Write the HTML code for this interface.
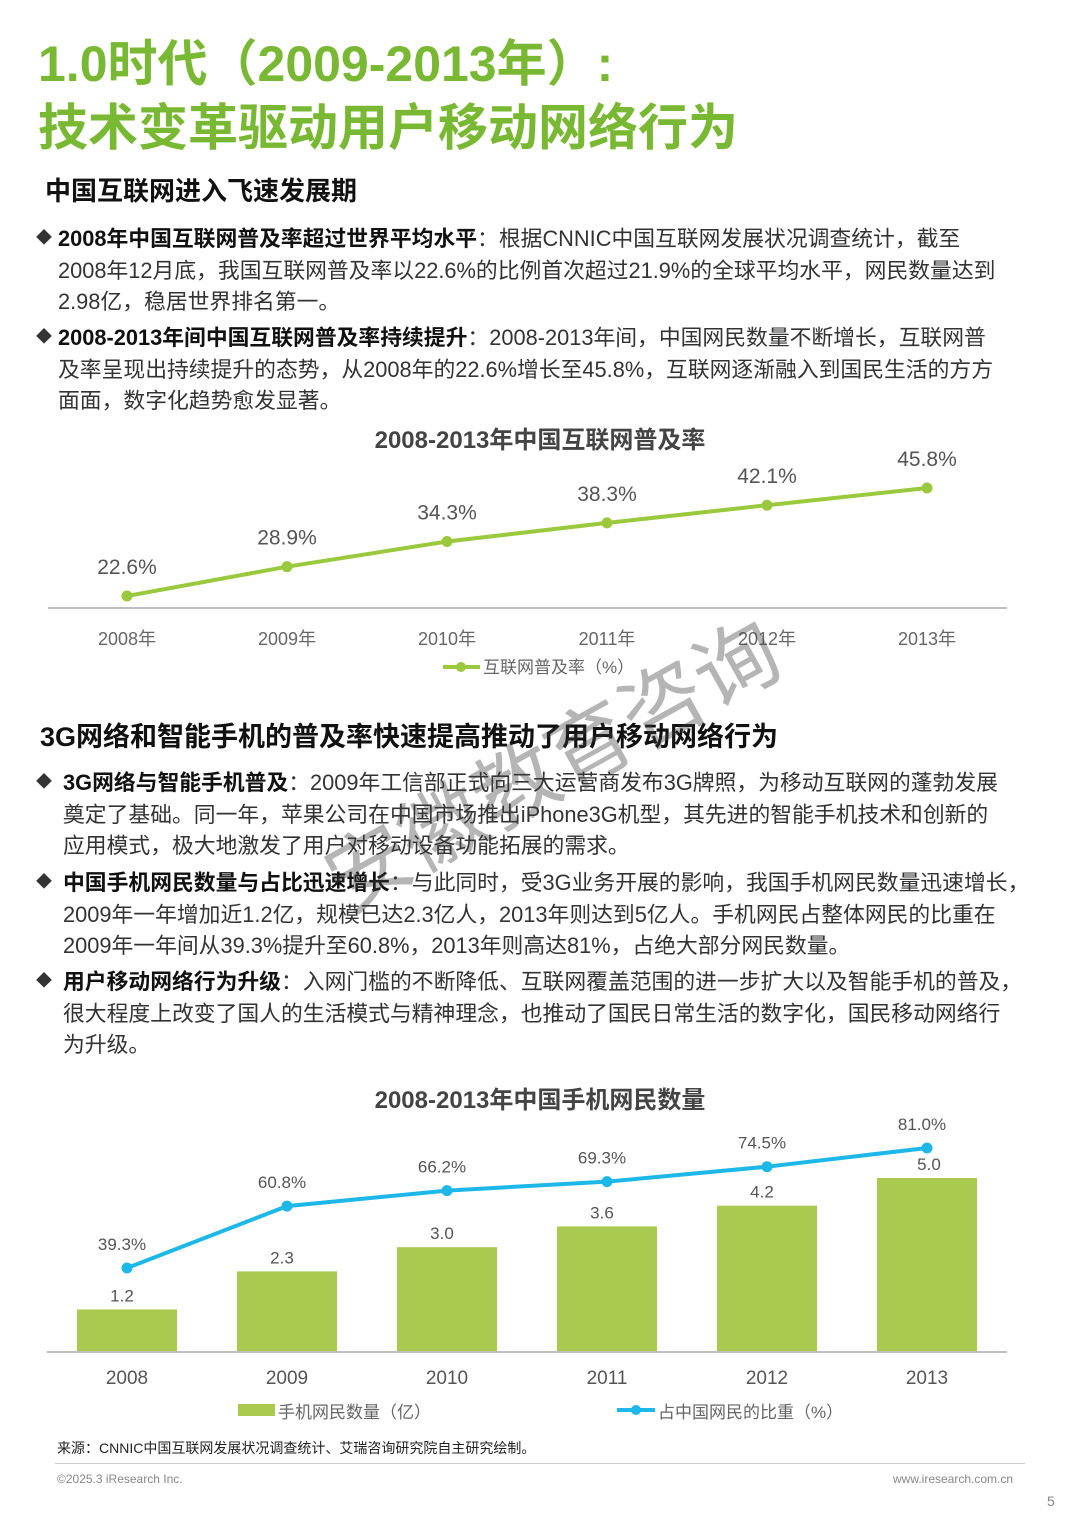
<!DOCTYPE html>
<html><head><meta charset="utf-8">
<style>
body{margin:0;background:#fff;}
#page{position:relative;width:1080px;height:1527px;overflow:hidden;font-family:"Liberation Sans","Noto Sans CJK SC",sans-serif;color:#222;}
.t{position:absolute;white-space:nowrap;}
.title{color:#79b833;font-weight:bold;font-size:50px;left:38px;}
.bul{position:absolute;left:36px;font-size:21.8px;line-height:31.5px;color:#333;white-space:nowrap;}
.bul b{color:#111;}
.bul .d{position:absolute;left:0;top:0;font-size:16px;}
.bul .c{margin-left:22px;}
.s2 .c{margin-left:27px;}
</style></head><body>
<div id="page">
<div class="t title" style="top:24px">1.0时代（2009-2013年）:</div>
<div class="t title" style="top:88px">技术变革驱动用户移动网络行为</div>
<div class="t" style="left:45px;top:171px;font-size:26px;font-weight:bold;color:#111">中国互联网进入飞速发展期</div>

<div class="bul" style="top:223px"><span class="d">◆</span><div class="c"><b>2008年中国互联网普及率超过世界平均水平</b>：根据CNNIC中国互联网发展状况调查统计，截至<br>2008年12月底，我国互联网普及率以22.6%的比例首次超过21.9%的全球平均水平，网民数量达到<br>2.98亿，稳居世界排名第一。</div></div>
<div class="bul" style="top:322px"><span class="d">◆</span><div class="c"><b>2008-2013年间中国互联网普及率持续提升</b>：2008-2013年间，中国网民数量不断增长，互联网普<br>及率呈现出持续提升的态势，从2008年的22.6%增长至45.8%，互联网逐渐融入到国民生活的方方<br>面面，数字化趋势愈发显著。</div></div>

<svg id="c1" style="position:absolute;left:0;top:420px" width="1080" height="270"></svg>

<div class="t" style="left:40px;top:715px;font-size:27px;font-weight:bold;color:#111">3G网络和智能手机的普及率快速提高推动了用户移动网络行为</div>
<div class="bul s2" style="top:767px"><span class="d">◆</span><div class="c"><b>3G网络与智能手机普及</b>：2009年工信部正式向三大运营商发布3G牌照，为移动互联网的蓬勃发展<br>奠定了基础。同一年，苹果公司在中国市场推出iPhone3G机型，其先进的智能手机技术和创新的<br>应用模式，极大地激发了用户对移动设备功能拓展的需求。</div></div>
<div class="bul s2" style="top:867px"><span class="d">◆</span><div class="c"><b>中国手机网民数量与占比迅速增长</b>：与此同时，受3G业务开展的影响，我国手机网民数量迅速增长，<br>2009年一年增加近1.2亿，规模已达2.3亿人，2013年则达到5亿人。手机网民占整体网民的比重在<br>2009年一年间从39.3%提升至60.8%，2013年则高达81%，占绝大部分网民数量。</div></div>
<div class="bul s2" style="top:966px"><span class="d">◆</span><div class="c"><b>用户移动网络行为升级</b>：入网门槛的不断降低、互联网覆盖范围的进一步扩大以及智能手机的普及，<br>很大程度上改变了国人的生活模式与精神理念，也推动了国民日常生活的数字化，国民移动网络行<br>为升级。</div></div>

<svg id="c2" style="position:absolute;left:0;top:1080px" width="1080" height="350"></svg>

<div class="t" style="left:57px;top:1438px;font-size:14px;color:#222">来源：CNNIC中国互联网发展状况调查统计、艾瑞咨询研究院自主研究绘制。</div>
<div style="position:absolute;left:55px;top:1463px;width:970px;height:1px;background:#ccc"></div>
<div class="t" style="left:57px;top:1472px;font-size:12px;color:#888">©2025.3 iResearch Inc.</div>
<div class="t" style="left:893px;top:1472px;font-size:12px;color:#888">www.iresearch.com.cn</div>
<div class="t" style="left:1047px;top:1493px;font-size:14px;color:#888">5</div>
<div class="t" style="left:300px;top:830px;font-size:84px;color:rgba(60,60,60,0.38);transform:rotate(-29deg);transform-origin:0 0;letter-spacing:0px">安徽教育咨询</div>
</div>
<script>
const years1=["2008年","2009年","2010年","2011年","2012年","2013年"];
const rate1=[22.6,28.9,34.3,38.3,42.1,45.8];
const years2=["2008","2009","2010","2011","2012","2013"];
const users2=[1.2,2.3,3.0,3.6,4.2,5.0];
const share2=[39.3,60.8,66.2,69.3,74.5,81.0];
const NS="http://www.w3.org/2000/svg";
function mk(p,tag,a,txt){const e=document.createElementNS(NS,tag);for(const k in a)e.setAttribute(k,a[k]);if(txt!==undefined)e.textContent=txt;p.appendChild(e);return e;}
const xPos=i=>127+i*160;
const c1=document.getElementById('c1');
const y1=v=>176-(v-22.6)*4.655;
let t=mk(c1,'text',{x:540,y:28,'text-anchor':'middle','font-size':24,'font-weight':'bold',fill:'#444'},'2008-2013年中国互联网普及率');


let ax=mk(c1,'line',{x1:48,x2:1007,y1:188,y2:188,stroke:'#aaa','stroke-width':1.5});


let pl=mk(c1,'polyline',{points:rate1.map((v,i)=>xPos(i)+','+y1(v)).join(' '),fill:'none',stroke:'#9bc93e','stroke-width':4});


rate1.forEach((v,i)=>{
 let c=mk(c1,'circle',{cx:xPos(i),cy:y1(v),r:5.5,fill:'#9bc93e'});
 
 
 let l=mk(c1,'text',{x:xPos(i),y:y1(v)-22,'text-anchor':'middle','font-size':21,fill:'#555'},v.toFixed(1)+'%');
 
 
 let yl=mk(c1,'text',{x:xPos(i),y:225,'text-anchor':'middle','font-size':18,fill:'#666'},years1[i]);
 
 
});
let lg=mk(c1,'g',{});


mk(lg,'line',{x1:443,x2:480,y1:247,y2:247,stroke:'#9bc93e','stroke-width':4});
mk(lg,'circle',{cx:461,cy:247,r:5,fill:'#9bc93e'});
mk(lg,'text',{x:483,y:253,'font-size':17,fill:'#666'},'互联网普及率（%）');
const c2=document.getElementById('c2');
const base=271;
const yb=v=>base-v*34.6;
const y2=v=>188-(v-39.3)*2.878;
t=mk(c2,'text',{x:540,y:28,'text-anchor':'middle','font-size':24,'font-weight':'bold',fill:'#444'},'2008-2013年中国手机网民数量');


users2.forEach((v,i)=>{
 let r=mk(c2,'rect',{x:xPos(i)-50,y:yb(v),width:100,height:base-yb(v),fill:'#a9c94f'});
 
 
 let l=mk(c2,'text',{x:xPos(i)+(i==5?2:-5),y:yb(v)-8,'text-anchor':'middle','font-size':17,fill:'#555'},v.toFixed(1));
 
 
 let yl=mk(c2,'text',{x:xPos(i),y:304,'text-anchor':'middle','font-size':19,fill:'#555'},years2[i]);
 
 
});
ax=mk(c2,'line',{x1:47,x2:1007,y1:272,y2:272,stroke:'#aaa','stroke-width':1.5});


pl=mk(c2,'polyline',{points:share2.map((v,i)=>xPos(i)+','+y2(v)).join(' '),fill:'none',stroke:'#1db8e8','stroke-width':4});


share2.forEach((v,i)=>{
 let c=mk(c2,'circle',{cx:xPos(i),cy:y2(v),r:5.5,fill:'#1db8e8'});
 
 
 let l=mk(c2,'text',{x:xPos(i)-5,y:y2(v)-18,'text-anchor':'middle','font-size':17,fill:'#555'},v.toFixed(1)+'%');
 
 
});
lg=mk(c2,'g',{});


mk(lg,'rect',{x:238,y:324,width:37,height:12,fill:'#a9c94f'});
mk(lg,'text',{x:278,y:338,'font-size':17,fill:'#666'},'手机网民数量（亿）');
mk(lg,'line',{x1:617,x2:655,y1:330,y2:330,stroke:'#1db8e8','stroke-width':4});
mk(lg,'circle',{cx:636,cy:330,r:5,fill:'#1db8e8'});
mk(lg,'text',{x:658,y:338,'font-size':17,fill:'#666'},'占中国网民的比重（%）');
</script>
</body></html>
